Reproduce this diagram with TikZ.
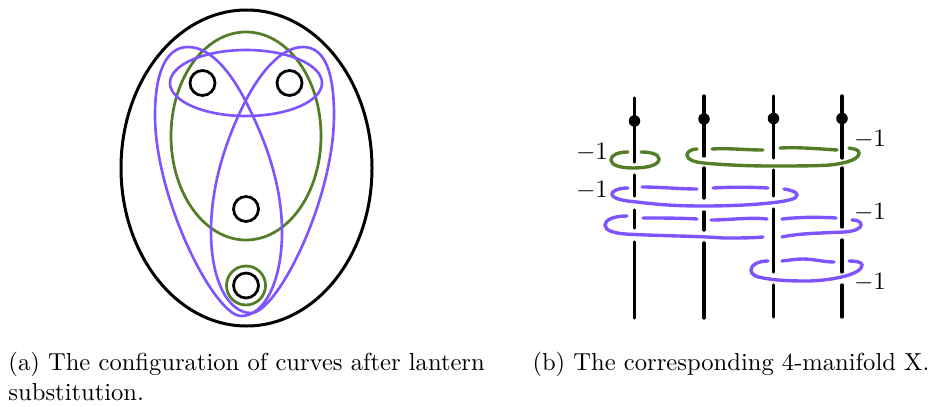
\documentclass[tikz,border=0pt]{standalone}
\usepackage{amsmath}
\usepackage{tikz}
\usetikzlibrary{positioning,calc}
\definecolor{curvegreen}{RGB}{84,125,40}
\definecolor{curvepurple}{RGB}{127,84,255}
\tikzset{
  outline/.style={draw=black,line width=1.2pt},
  hole/.style={circle,draw=black,line width=1.1pt,minimum size=10pt,inner sep=0pt},
  ring/.style={circle,draw=curvegreen,line width=1.1pt,minimum size=15.6pt,inner sep=0pt},
  greencurve/.style={draw=curvegreen,line width=1.1pt},
  purplecurve/.style={draw=curvepurple,line width=1.05pt},
  greenlink/.style={draw=curvegreen,line width=1.35pt,line cap=round},
  purplelink/.style={draw=curvepurple,line width=1.35pt,line cap=round},
  strand/.style={draw=black,line width=1.35pt,line cap=round},
  marker/.style={circle,fill=black,minimum size=4.6pt,inner sep=0pt},
  framing/.style={inner sep=0pt,font=\fontsize{9.83}{12}\selectfont},
  caption/.style={inner sep=0pt,align=left,anchor=north west,font=\fontsize{9.83}{12}\selectfont}
}
\begin{document}
\begin{tikzpicture}[x=0.4pt,y=-0.4pt]
  \useasboundingbox (0,0) rectangle (931,406);
  % left picture
  \draw[outline] (246.5,168) ellipse [x radius=125.5,y radius=158];
  \draw[greencurve] (246,136) ellipse [x radius=75,y radius=104];
  \draw[purplecurve] (246,83) ellipse [x radius=76,y radius=33];
  \draw[purplecurve] (188,47) .. controls (212,47) and (232,75) .. (245,100) .. controls (262,133) and (282,180) .. (282,232) .. controls (282,280) and (265,316) .. (241,316) .. controls (215,316) and (155,200) .. (155,115) .. controls (155,75) and (165,47) .. (188,47) -- cycle;
  \draw[purplecurve] (303,47) .. controls (280,47) and (259,75) .. (246,100) .. controls (229,133) and (211,180) .. (211,232) .. controls (211,280) and (228,313) .. (251,313) .. controls (277,313) and (334,200) .. (334,115) .. controls (334,75) and (326,47) .. (303,47) -- cycle;
  \node[hole] (hole1) at (202.5,83) {};
  \node[hole] (hole2) at (289.5,83) {};
  \node[hole] (hole3) at (246,209) {};
  \node[hole] (hole4) at (246,285.5) {};
  \node[ring] (ring4) at (246,285.5) {};
  % right picture
  \foreach \x/\ya/\yb/\yc/\yd/\ye/\yf/\yg in {634.5/98/162/175/196/210/228/242,704/96/156/168/198/212/230/243}
    \draw[strand] (\x,\ya) -- (\x,\yb) (\x,\yc) -- (\x,\yd) (\x,\ye) -- (\x,\yf) (\x,\yg) -- (\x,318);
  \draw[strand] (773.5,96) -- (773.5,158) (773.5,170) -- (773.5,196) (773.5,209) -- (773.5,272) (773.5,285) -- (773.5,317);
  \draw[strand] (842,96) -- (842,158) (842,168) -- (842,227) (842,240) -- (842,272) (842,285) -- (842,317);
  \node[marker] (dot1) at (634.5,121) {};
  \node[marker] (dot2) at (704,119) {};
  \node[marker] (dot3) at (773.5,118.5) {};
  \node[marker] (dot4) at (842,118.5) {};
  \draw[greenlink] (628,152) .. controls (618,152) and (611,155) .. (611,160) .. controls (611,165) and (620,168) .. (633,168) .. controls (648,168) and (659,165) .. (659,159) .. controls (659,154) and (650,152) .. (641,152);
  \draw[greenlink] (697,149) .. controls (691,149) and (687,152) .. (687,155) .. controls (687,160) and (695,162) .. (703,163) .. controls (725,165) and (750,166) .. (770,166) .. controls (795,166) and (815,166) .. (830,165) .. controls (848,163) and (859,159) .. (859,153) .. controls (859,150) and (855,149) .. (849,148);
  \draw[greenlink] (712,149) .. controls (730,148) and (745,150) .. (763,150);
  \draw[greenlink] (780,148) .. controls (800,147) and (820,149) .. (837,150);
  \draw[purplelink] (628,188) .. controls (618,188) and (612,191) .. (612,194) .. controls (612,199) and (625,201) .. (637,202) .. controls (660,205) and (680,206) .. (703,206) .. controls (730,206) and (750,205) .. (770,203) .. controls (788,201) and (797,199) .. (797,195) .. controls (797,192) and (791,190) .. (784,189);
  \draw[purplelink] (642,187) .. controls (660,187) and (680,189) .. (697,189);
  \draw[purplelink] (713,188) .. controls (730,187) and (750,187) .. (768,188);
  \draw[purplelink] (627,216) .. controls (613,216) and (605,220) .. (605,225) .. controls (605,231) and (615,233) .. (625,234) .. controls (660,236) and (700,236) .. (723,238) .. controls (740,238) and (752,238) .. (763,237);
  \draw[purplelink] (782,237) .. controls (800,233) and (825,233) .. (845,232) .. controls (856,231) and (861,228) .. (861,225) .. controls (861,222) and (858,220) .. (852,220);
  \draw[purplelink] (643,218) .. controls (660,218) and (680,218) .. (697,219);
  \draw[purplelink] (711,220) .. controls (730,220) and (750,217) .. (767,219);
  \draw[purplelink] (782,219) .. controls (800,217) and (820,217) .. (836,218);
  \draw[purplelink] (768,261) .. controls (758,261) and (751,265) .. (751,270) .. controls (751,275) and (757,277) .. (763,278) .. controls (780,281) and (795,281) .. (810,281) .. controls (835,280) and (862,274) .. (862,265) .. controls (862,262) and (856,261) .. (849,261);
  \draw[purplelink] (782,261) .. controls (790,260) and (797,259) .. (803,259) .. controls (813,259) and (824,262) .. (834,262);
  \node[framing] (frame1) at (592,152) {$-1$};
  \node[framing] (frame2) at (592,190) {$-1$};
  \node[framing] (frame3) at (870,139) {$-1$};
  \node[framing] (frame4) at (870,212) {$-1$};
  \node[framing] (frame5) at (870,282) {$-1$};
  % captions
  \node[caption] (capa) at (8,352) {(a) The configuration of curves after lantern\\substitution.};
  \node[caption] (capb) at (532,352) {(b) The corresponding 4-manifold X.};
\end{tikzpicture}
\end{document}
